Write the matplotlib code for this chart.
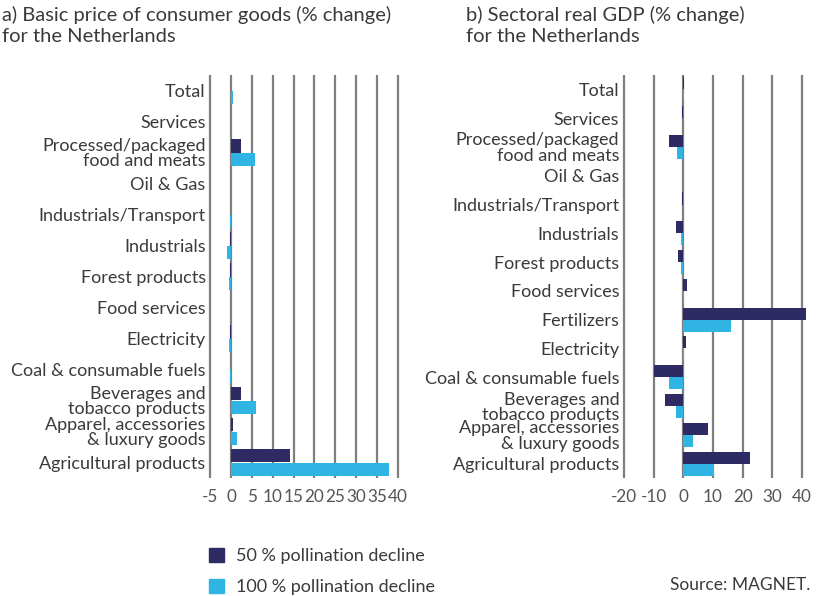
import numpy as np
import matplotlib.pyplot as plt
from matplotlib.patches import Patch

plt.rcParams['font.family'] = ['Lato', 'DejaVu Sans']

dark = '#2d2a64'
light = '#30b4e4'
grid_col = '#7f7f7f'
label_col = '#3a3a3a'

# a) basic price of consumer goods (% change)
price_cats = ["Total", "Services", "Processed/packaged\nfood and meats", "Oil & Gas",
              "Industrials/Transport", "Industrials", "Forest products", "Food services",
              "Electricity", "Coal & consumable fuels", "Beverages and\ntobacco products",
              "Apparel, accessories\n& luxury goods", "Agricultural products"]
price_50 = [0.1, 0.1, 2.4, 0.1, 0.1, -0.3, -0.3, 0.1, -0.2, 0.1, 2.4, 0.5, 14.2]
price_100 = [0.5, 0.1, 5.8, 0.1, -0.3, -1.0, -0.5, 0.1, -0.4, -0.2, 6.0, 1.4, 37.9]
price_ticks = [-5, 0, 5, 10, 15, 20, 25, 30, 35, 40]

# b) sectoral real GDP (% change)
gdp_cats = ["Total", "Services", "Processed/packaged\nfood and meats", "Oil & Gas",
            "Industrials/Transport", "Industrials", "Forest products", "Food services",
            "Fertilizers", "Electricity", "Coal & consumable fuels",
            "Beverages and\ntobacco products", "Apparel, accessories\n& luxury goods",
            "Agricultural products"]
gdp_50 = [0.1, -0.5, -4.8, -0.1, -0.5, -2.4, -1.8, 1.4, 41.2, 0.8, -9.9, -6.1, 8.2, 22.6]
gdp_100 = [0.2, -0.1, -2.1, -0.1, -0.2, -0.8, -0.8, 0.4, 15.9, 0.4, -4.8, -2.4, 3.2, 10.2]
gdp_ticks = [-20, -10, 0, 10, 20, 30, 40]

W, H = 816, 596
fig = plt.figure(figsize=(W / 100, H / 100), dpi=100)


def panel(x0_px, ppu, xlim, cats, v50, v100, ticks):
    left = x0_px + xlim[0] * ppu
    right = x0_px + xlim[1] * ppu
    ax = fig.add_axes([left / W, 1 - 478 / H, (right - left) / W, 403 / H])
    y = np.arange(len(cats))
    h = 0.42
    ax.barh(y - h / 2, v50, height=h, color=dark, zorder=3)
    ax.barh(y + h / 2, v100, height=h, color=light, zorder=3)
    ax.set_xlim(*xlim)
    ax.set_ylim(len(cats) - 0.5, -0.5)
    ax.set_xticks(ticks)
    ax.set_xticklabels([str(t) for t in ticks])
    ax.set_yticks(y)
    ax.set_yticklabels(cats, linespacing=0.95)
    for s in ax.spines.values():
        s.set_visible(False)
    ax.tick_params(axis='both', length=0)
    ax.tick_params(axis='x', pad=8, labelcolor='#555555', labelsize=12.3)
    ax.tick_params(axis='y', pad=2, labelcolor=label_col, labelsize=13)
    ax.grid(axis='x', color=grid_col, lw=1.6, zorder=0)
    ax.set_axisbelow(True)
    return ax


panel(231, 4.171, (-5.4, 40.4), price_cats, price_50, price_100, price_ticks)
panel(683.3, 2.97, (-20.6, 42.0), gdp_cats, gdp_50, gdp_100, gdp_ticks)

fig.text(2 / W, 1 - 6 / H, "a) Basic price of consumer goods (% change)\nfor the Netherlands",
         ha='left', va='top', fontsize=14.5, color=label_col, linespacing=1.3)
fig.text(466 / W, 1 - 6 / H, "b) Sectoral real GDP (% change)\nfor the Netherlands",
         ha='left', va='top', fontsize=14.5, color=label_col, linespacing=1.3)

handles = [Patch(color=dark), Patch(color=light)]
fig.legend(handles, ["50 % pollination decline", "100 % pollination decline"],
           loc='upper left', bbox_to_anchor=(193 / W, 1 - 532 / H), frameon=False,
           fontsize=13, handlelength=0.8, handleheight=0.8, labelspacing=0.8,
           handletextpad=0.7, labelcolor=label_col)

fig.text(810 / W, 1 - 585 / H, "Source: MAGNET.", ha='right', va='center',
         fontsize=12.5, color=label_col)

fig.savefig('out.png', dpi=100)
